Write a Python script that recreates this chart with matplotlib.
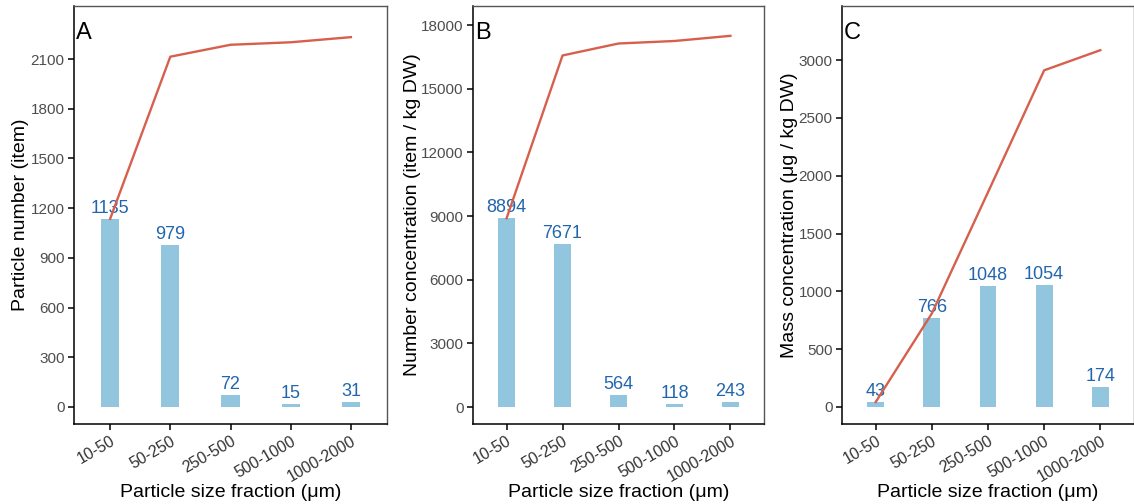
import numpy as np
import matplotlib
matplotlib.use('Agg')
import matplotlib.pyplot as plt

plt.rcParams['font.family'] = ['Liberation Sans', 'DejaVu Sans']

fractions = ['10-50', '50-250', '250-500', '500-1000', '1000-2000']

particle_number = [1135, 979, 72, 15, 31]
number_conc = [8894, 7671, 564, 118, 243]
mass_conc = [43, 766, 1048, 1054, 174]

panels = [
    ('A', particle_number, 'Particle number (item)', np.arange(0, 2101, 300), (-103, 2420)),
    ('B', number_conc, 'Number concentration (item / kg DW)', np.arange(0, 18001, 3000), (-801, 18896)),
    ('C', mass_conc, 'Mass concentration (\u03bcg / kg DW)', np.arange(0, 3001, 500), (-147, 3467)),
]

# axes boxes in pixels: left, right
W, H = 1134, 504
boxes = [(74, 387), (473, 764), (842, 1134)]
top_px, bottom_px = 6, 424
ylab_x = [29, 421, 798]

bar_color = '#92c5de'
line_color = '#d6604d'
text_color = '#2166ac'

fig = plt.figure(figsize=(W / 100, H / 100), dpi=100)

for (letter, vals, ylabel, yticks, ylim), (l, r), yl in zip(panels, boxes, ylab_x):
    ax = fig.add_axes([l / W, (H - bottom_px) / H, (r - l) / W, (bottom_px - top_px) / H])
    x = np.arange(1, len(fractions) + 1)
    ax.bar(x, vals, width=0.3, color=bar_color, zorder=2)
    # cumulative line
    ax.plot(x, np.cumsum(vals), color=line_color, lw=1.7, zorder=4)
    for xi, v in zip(x, vals):
        ax.annotate(str(v), (xi, v), xytext=(0, 1.5), textcoords='offset points',
                    ha='center', va='bottom', fontsize=13, color=text_color, zorder=3)
    ax.set_xlim(0.4, 5.6)
    ax.set_ylim(*ylim)
    ax.set_xticks(x)
    ax.set_xticklabels(fractions, rotation=30, ha='right', va='top',
                       rotation_mode='anchor', fontsize=11.5, color='#333333')
    ax.set_yticks(yticks)
    ax.set_yticklabels([str(t) for t in yticks], fontsize=11, color='#4d4d4d')
    ax.tick_params(axis='both', length=4.3, width=1.1, color='black', pad=2.5)
    for side in ['left', 'bottom']:
        ax.spines[side].set_color('black')
        ax.spines[side].set_linewidth(1.1)
    for side in ['top', 'right']:
        ax.spines[side].set_color('#555555')
        ax.spines[side].set_linewidth(1.0)
    ax.set_xlabel('Particle size fraction (\u03bcm)', fontsize=14)
    ax.xaxis.set_label_coords(0.5, -0.143)
    ax.set_ylabel(ylabel, fontsize=14)
    ax.yaxis.set_label_coords((yl - l) / (r - l), 0.5)
    ax.text(0.006, 0.962, letter, transform=ax.transAxes, fontsize=17,
            ha='left', va='top')

fig.savefig('out.png', dpi=100)
